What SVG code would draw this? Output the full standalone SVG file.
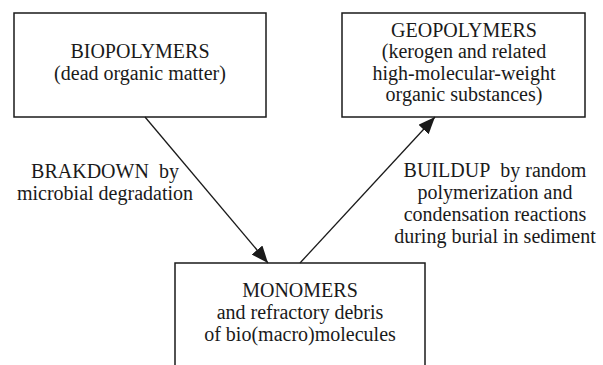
<svg xmlns="http://www.w3.org/2000/svg" width="603" height="365" viewBox="0 0 603 365">
  <style>
    .box { fill: #ffffff; stroke: #1a1a1a; stroke-width: 1.5; }
    .t { font-family: 'Liberation Serif', 'DejaVu Serif', 'Noto Serif', serif; font-size: 20px; fill: #1a1a1a; text-anchor: middle; }
    .edge { stroke: #1a1a1a; stroke-width: 1.3; fill: none; }
  </style>
  <defs>
    <marker id="arrow" markerUnits="userSpaceOnUse" markerWidth="18" markerHeight="14" refX="17" refY="7" orient="auto">
      <path d="M0,0 L17,7 L0,14 Z" fill="#1a1a1a"/>
    </marker>
  </defs>
  <rect width="603" height="365" fill="#ffffff"/>

  <g id="biopolymers">
    <rect class="box" x="14" y="13" width="252" height="104"/>
    <text class="t" x="140" y="58">BIOPOLYMERS</text>
    <text class="t" x="140" y="80">(dead organic matter)</text>
  </g>

  <g id="geopolymers">
    <rect class="box" x="342" y="13" width="243" height="104"/>
    <text class="t" x="464" y="37">GEOPOLYMERS</text>
    <text class="t" x="464" y="58">(kerogen and related</text>
    <text class="t" x="464" y="80">high-molecular-weight</text>
    <text class="t" x="464" y="101">organic substances)</text>
  </g>

  <g id="monomers">
    <rect class="box" x="175" y="263" width="250" height="120"/>
    <text class="t" x="300" y="297">MONOMERS</text>
    <text class="t" x="300" y="319">and refractory debris</text>
    <text class="t" x="300" y="341">of bio(macro)molecules</text>
  </g>

  <g id="connectors">
    <line class="edge" x1="145" y1="117" x2="268" y2="263" marker-end="url(#arrow)"/>
    <line class="edge" x1="300" y1="263" x2="435" y2="117" marker-end="url(#arrow)"/>
  </g>

  <g id="labels">
    <text class="t" x="105" y="178">BRAKDOWN<tspan dx="10">by</tspan></text>
    <text class="t" x="105" y="200">microbial degradation</text>
    <text class="t" x="495" y="177">BUILDUP<tspan dx="10">by random</tspan></text>
    <text class="t" x="495" y="199">polymerization and</text>
    <text class="t" x="495" y="221">condensation reactions</text>
    <text class="t" x="495" y="243">during burial in sediment</text>
  </g>
</svg>
